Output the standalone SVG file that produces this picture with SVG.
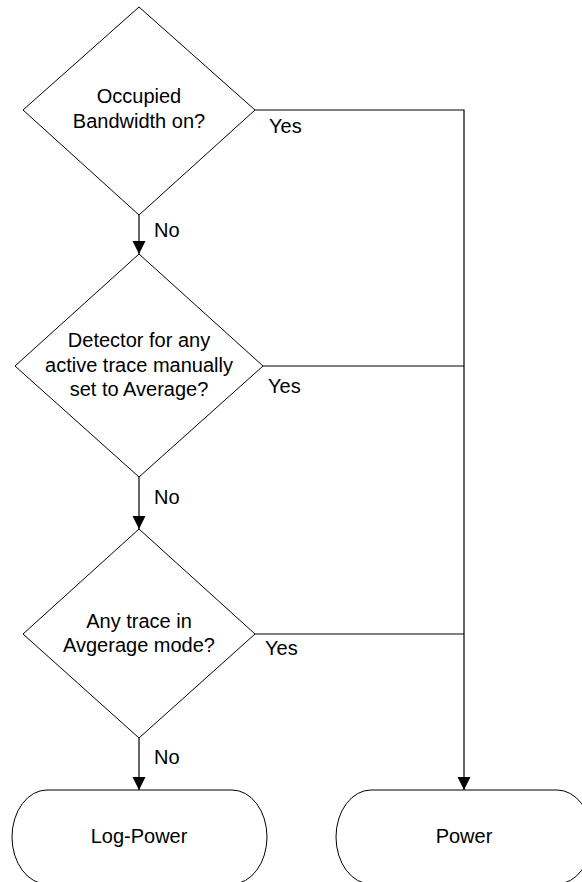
<svg xmlns="http://www.w3.org/2000/svg" width="582" height="882" viewBox="0 0 582 882">
<style>
.shape{fill:#fff;stroke:#000;stroke-width:1}
.conn{fill:none;stroke:#000;stroke-width:1.2}
text{font-family:"Liberation Sans",Arial,sans-serif;font-size:20px;fill:#000}
.c{text-anchor:middle}
</style>
<defs>
<marker id="arr" markerUnits="userSpaceOnUse" markerWidth="14" markerHeight="15" refX="13" refY="7" orient="auto">
<path d="M0,0.5 L13,7 L0,13.5 Z" fill="#000"/>
</marker>
</defs>
<g id="d1">
<polygon class="shape" points="139,7 255,110 139,215 23,110"/>
<text class="c" x="139" y="103">Occupied</text>
<text class="c" x="139" y="128">Bandwidth on?</text>
</g>
<g id="d2">
<polygon class="shape" points="139,254 263,366 139,477 15,366"/>
<text class="c" x="139" y="347">Detector for any</text>
<text class="c" x="139" y="372">active trace manually</text>
<text class="c" x="139" y="396">set to Average?</text>
</g>
<g id="d3">
<polygon class="shape" points="139,529 255,634 139,738 23,634"/>
<text class="c" x="139" y="628">Any trace in</text>
<text class="c" x="139" y="652">Avgerage mode?</text>
</g>
<g id="logpower">
<path class="shape" d="M47,790 H232 A35,47 0 0 1 232,884 H47 A35,47 0 0 1 47,790 Z"/>
<text class="c" x="139" y="843">Log-Power</text>
</g>
<g id="power">
<path class="shape" d="M371,790 H557 A35,47 0 0 1 557,884 H371 A35,47 0 0 1 371,790 Z"/>
<text class="c" x="464" y="843">Power</text>
</g>
<g id="connectors">
<line class="conn" x1="139" y1="215" x2="139" y2="254" marker-end="url(#arr)"/>
<line class="conn" x1="139" y1="477" x2="139" y2="529" marker-end="url(#arr)"/>
<line class="conn" x1="139" y1="738" x2="139" y2="790" marker-end="url(#arr)"/>
<polyline class="conn" points="255,110 464,110 464,790" marker-end="url(#arr)"/>
<line class="conn" x1="263" y1="366" x2="464" y2="366"/>
<line class="conn" x1="255" y1="634" x2="464" y2="634"/>
<text x="154" y="237">No</text>
<text x="154" y="504">No</text>
<text x="154" y="764">No</text>
<text x="269" y="133">Yes</text>
<text x="268" y="393">Yes</text>
<text x="265" y="655">Yes</text>
</g>
</svg>
